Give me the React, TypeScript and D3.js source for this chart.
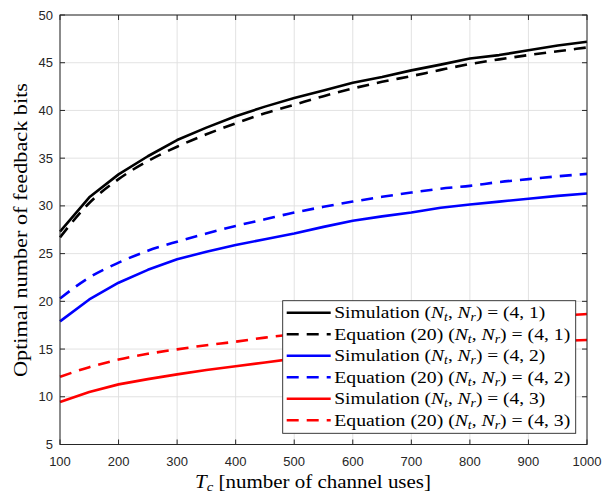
import React from "react";
import * as d3 from "d3";

const tcValues = [100, 150, 200, 250, 300, 350, 400, 450, 500, 550, 600, 650, 700, 750, 800, 850, 900, 950, 1000];
const sim41 = [27.3, 30.9, 33.3, 35.2, 36.9, 38.2, 39.4, 40.4, 41.3, 42.1, 42.9, 43.5, 44.2, 44.8, 45.45, 45.8, 46.3, 46.8, 47.2];
const eq41 = [26.7, 30.3, 32.8, 34.7, 36.2, 37.5, 38.65, 39.7, 40.6, 41.5, 42.3, 43.0, 43.6, 44.25, 44.86, 45.35, 45.8, 46.2, 46.6];
const sim42 = [17.9, 20.2, 21.95, 23.3, 24.4, 25.2, 25.9, 26.5, 27.1, 27.8, 28.45, 28.9, 29.3, 29.8, 30.15, 30.45, 30.75, 31.05, 31.3];
const eq42 = [20.3, 22.5, 24.05, 25.3, 26.25, 27.1, 27.9, 28.6, 29.3, 29.9, 30.45, 30.95, 31.4, 31.8, 32.1, 32.5, 32.8, 33.1, 33.35];
const sim43 = [9.45, 10.5, 11.3, 11.85, 12.35, 12.8, 13.2, 13.6, 14.0, 14.3, 14.6, 14.85, 15.05, 15.25, 15.45, 15.6, 15.75, 15.85, 15.95];
const eq43 = [12.1, 13.1, 13.9, 14.5, 14.97, 15.4, 15.77, 16.2, 16.55, 16.85, 17.1, 17.35, 17.6, 17.8, 18.0, 18.2, 18.35, 18.5, 18.67];

const xTicks = [100, 200, 300, 400, 500, 600, 700, 800, 900, 1000];
const yTicks = [5, 10, 15, 20, 25, 30, 35, 40, 45, 50];

const seriesNames = ["Simulation", "Equation (20)", "Simulation", "Equation (20)", "Simulation", "Equation (20)"];
const seriesNr = ["1", "1", "2", "2", "3", "3"];

const series = [
  { values: sim41, color: "#000000", dashed: false },
  { values: eq41, color: "#000000", dashed: true },
  { values: sim42, color: "#0000ff", dashed: false },
  { values: eq42, color: "#0000ff", dashed: true },
  { values: sim43, color: "#ff0000", dashed: false },
  { values: eq43, color: "#ff0000", dashed: true },
];

const L = 60, R = 587, T = 15, B = 444.5;
const axisColor = "#262626";
const serif = "'Liberation Serif', 'Times New Roman', serif";
const sans = "'Liberation Sans', Arial, Helvetica, sans-serif";

export default function App() {
  const x = d3.scaleLinear().domain([100, 1000]).range([L, R]);
  const y = d3.scaleLinear().domain([5, 50]).range([B, T]);
  const mk = (dashed: boolean) =>
    d3.line<number>()
      .x((_, i) => x(tcValues[i]))
      .y((d) => y(d))
      .curve(dashed ? d3.curveMonotoneX : d3.curveLinear);

  const legX = 282.7, legY = 300.7, legW = 293, legH = 132.6;
  const rowY0 = 312.7, rowStep = 21.5;

  return (
    <svg width={603} height={494} style={{ position: "absolute", left: 0, top: 0, background: "#fff" }}>
      <rect x={0} y={0} width={603} height={494} fill="#fff" />
      {/* grid */}
      {xTicks.map((t) => (
        <line key={"gx" + t} x1={x(t)} x2={x(t)} y1={T} y2={B} stroke="#dfdfdf" strokeWidth={0.9} />
      ))}
      {yTicks.map((t) => (
        <line key={"gy" + t} x1={L} x2={R} y1={y(t)} y2={y(t)} stroke="#dfdfdf" strokeWidth={0.9} />
      ))}
      {/* series */}
      {series.map((s, i) => (
        <path
          key={"s" + i}
          d={mk(s.dashed)(s.values) || ""}
          fill="none"
          stroke={s.color}
          strokeWidth={2.6}
          strokeDasharray={s.dashed ? "12,8" : undefined}
          strokeLinejoin="round"
        />
      ))}
      {/* axes box */}
      <rect x={L} y={T} width={R - L} height={B - T} fill="none" stroke={axisColor} strokeWidth={1} />
      {xTicks.map((t) => (
        <g key={"tx" + t}>
          <line x1={x(t)} x2={x(t)} y1={B} y2={B - 5} stroke={axisColor} strokeWidth={1} />
          <line x1={x(t)} x2={x(t)} y1={T} y2={T + 5} stroke={axisColor} strokeWidth={1} />
          <text x={x(t)} y={466} textAnchor="middle" fontFamily={sans} fontSize={13} fill={axisColor}>
            {t}
          </text>
        </g>
      ))}
      {yTicks.map((t) => (
        <g key={"ty" + t}>
          <line x1={L} x2={L + 5} y1={y(t)} y2={y(t)} stroke={axisColor} strokeWidth={1} />
          <line x1={R} x2={R - 5} y1={y(t)} y2={y(t)} stroke={axisColor} strokeWidth={1} />
          <text x={53} y={y(t) + 4.6} textAnchor="end" fontFamily={sans} fontSize={13} fill={axisColor}>
            {t}
          </text>
        </g>
      ))}
      {/* axis labels */}
      <text x={195} y={488} fontFamily={serif} fontSize={18.5} fill="#000" textLength={236} lengthAdjust="spacingAndGlyphs">
        <tspan fontStyle="italic">T</tspan>
        <tspan fontStyle="italic" fontSize={13} dy={3}>c</tspan>
        <tspan dy={-3}> [number of channel uses]</tspan>
      </text>
      <text
        transform="translate(26.5,230) rotate(-90)"
        textAnchor="middle"
        fontFamily={serif}
        fontSize={19}
        fill="#000"
        textLength={294}
        lengthAdjust="spacingAndGlyphs"
      >
        Optimal number of feedback bits
      </text>
      {/* legend */}
      <rect x={legX} y={legY} width={legW} height={legH} fill="#fff" stroke={axisColor} strokeWidth={0.9} />
      {series.map((s, i) => {
        const cy = rowY0 + i * rowStep;
        return (
          <g key={"lg" + i}>
            <line
              x1={286.7}
              x2={330.7}
              y1={cy}
              y2={cy}
              stroke={s.color}
              strokeWidth={2.6}
              strokeDasharray={s.dashed ? "12,8" : undefined}
            />
            <text
              x={334.3}
              y={cy + 5.5}
              fontFamily={serif}
              fontSize={16.5}
              fill="#000"
              textLength={s.dashed ? 236 : 211}
              lengthAdjust="spacingAndGlyphs"
            >
              <tspan>{seriesNames[i]} (</tspan>
              <tspan fontStyle="italic">N</tspan>
              <tspan fontStyle="italic" fontSize={11.5} dy={3}>t</tspan>
              <tspan dy={-3}>, </tspan>
              <tspan fontStyle="italic">N</tspan>
              <tspan fontStyle="italic" fontSize={11.5} dy={3}>r</tspan>
              <tspan dy={-3}>) = (4, {seriesNr[i]})</tspan>
            </text>
          </g>
        );
      })}
    </svg>
  );
}
